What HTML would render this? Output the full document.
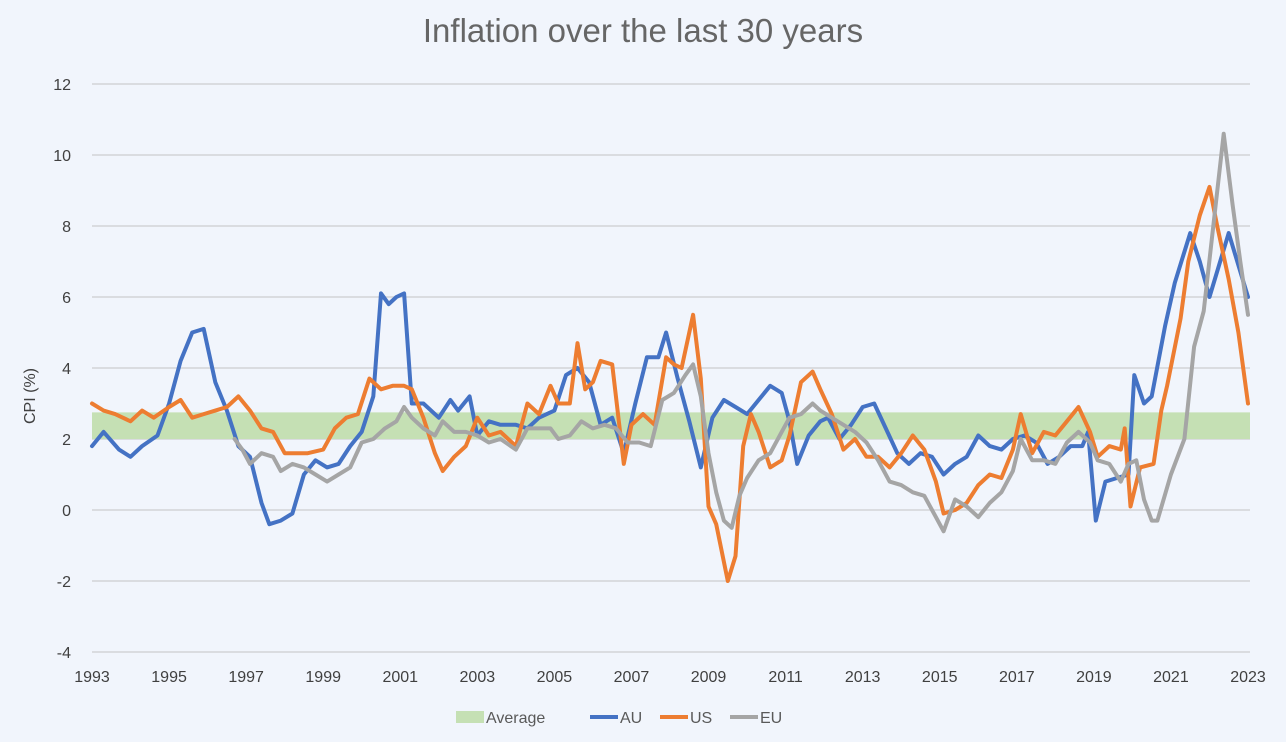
<!DOCTYPE html>
<html><head><meta charset="utf-8"><style>
html,body{margin:0;padding:0;background:#f1f5fc;}
svg{display:block;font-family:"Liberation Sans",sans-serif;}
</style></head><body>
<svg id="chart" width="1286" height="742" viewBox="0 0 1286 742" xmlns="http://www.w3.org/2000/svg">
<rect width="1286" height="742" fill="#f1f5fc"/>
<text x="643" y="42" text-anchor="middle" font-size="33" fill="#666666">Inflation over the last 30 years</text>
<text transform="translate(35,396) rotate(-90)" text-anchor="middle" font-size="16" fill="#404040">CPI (%)</text>
<g id="grid"></g><g id="band"></g><g id="lines"></g><g id="ticks"></g>
<g id="legend"></g>
</svg>
<script>
const yTicks=[-4,-2,0,2,4,6,8,10,12];
const xTicks=[1993,1995,1997,1999,2001,2003,2005,2007,2009,2011,2013,2015,2017,2019,2021,2023];
const avgLow=2.0, avgHigh=2.75;
const auYears=[1993,1993.3,1993.7,1994,1994.3,1994.7,1995,1995.3,1995.6,1995.9,1996.2,1996.5,1996.8,1997.1,1997.4,1997.6,1997.9,1998.2,1998.5,1998.8,1999.1,1999.4,1999.7,2000,2000.3,2000.5,2000.7,2000.9,2001.1,2001.3,2001.6,2002,2002.3,2002.5,2002.8,2003,2003.3,2003.6,2004,2004.3,2004.6,2005,2005.3,2005.6,2005.9,2006.2,2006.5,2006.8,2007.1,2007.4,2007.7,2007.9,2008.2,2008.5,2008.8,2009.1,2009.4,2009.7,2010,2010.3,2010.6,2010.9,2011.1,2011.3,2011.6,2011.9,2012.1,2012.4,2012.7,2013,2013.3,2013.6,2013.9,2014.2,2014.5,2014.8,2015.1,2015.4,2015.7,2016,2016.3,2016.6,2016.9,2017.2,2017.5,2017.8,2018.1,2018.4,2018.7,2018.85,2019.05,2019.3,2019.6,2019.9,2020.05,2020.3,2020.5,2020.85,2021.1,2021.5,2021.75,2022.0,2022.5,2023];
const auValues=[1.8,2.2,1.7,1.5,1.8,2.1,3.0,4.2,5.0,5.1,3.6,2.8,1.8,1.5,0.2,-0.4,-0.3,-0.1,1.0,1.4,1.2,1.3,1.8,2.2,3.2,6.1,5.8,6.0,6.1,3.0,3.0,2.6,3.1,2.8,3.2,2.1,2.5,2.4,2.4,2.3,2.6,2.8,3.8,4.0,3.6,2.4,2.6,1.6,3.0,4.3,4.3,5.0,3.7,2.5,1.2,2.6,3.1,2.9,2.7,3.1,3.5,3.3,2.5,1.3,2.1,2.5,2.6,2.0,2.4,2.9,3.0,2.3,1.6,1.3,1.6,1.5,1.0,1.3,1.5,2.1,1.8,1.7,2.0,2.1,1.9,1.3,1.5,1.8,1.8,2.2,-0.3,0.8,0.9,1.0,3.8,3.0,3.2,5.2,6.4,7.8,7.0,6.0,7.8,6.0];
const usYears=[1993,1993.3,1993.6,1994,1994.3,1994.6,1995,1995.3,1995.6,1995.9,1996.2,1996.5,1996.8,1997.1,1997.4,1997.7,1998,1998.3,1998.6,1999,1999.3,1999.6,1999.9,2000.2,2000.5,2000.8,2001.1,2001.3,2001.6,2001.9,2002.1,2002.4,2002.7,2003,2003.3,2003.6,2004,2004.3,2004.6,2004.9,2005.1,2005.4,2005.6,2005.8,2006,2006.2,2006.5,2006.8,2007,2007.3,2007.6,2007.9,2008.1,2008.3,2008.6,2008.8,2009,2009.2,2009.5,2009.7,2009.9,2010.1,2010.3,2010.6,2010.9,2011.1,2011.4,2011.7,2011.9,2012.2,2012.5,2012.8,2013.1,2013.4,2013.7,2014,2014.3,2014.6,2014.9,2015.1,2015.4,2015.7,2016,2016.3,2016.6,2016.9,2017.1,2017.4,2017.7,2018,2018.3,2018.6,2018.9,2019.1,2019.4,2019.7,2019.8,2019.95,2020.2,2020.55,2020.75,2020.9,2021.25,2021.45,2021.75,2022.0,2022.2,2022.5,2022.75,2023];
const usValues=[3.0,2.8,2.7,2.5,2.8,2.6,2.9,3.1,2.6,2.7,2.8,2.9,3.2,2.8,2.3,2.2,1.6,1.6,1.6,1.7,2.3,2.6,2.7,3.7,3.4,3.5,3.5,3.4,2.6,1.6,1.1,1.5,1.8,2.6,2.1,2.2,1.8,3.0,2.7,3.5,3.0,3.0,4.7,3.4,3.6,4.2,4.1,1.3,2.4,2.7,2.4,4.3,4.1,4.0,5.5,3.7,0.1,-0.4,-2.0,-1.3,1.8,2.7,2.2,1.2,1.4,2.1,3.6,3.9,3.4,2.7,1.7,2.0,1.5,1.5,1.2,1.6,2.1,1.7,0.8,-0.1,0.0,0.2,0.7,1.0,0.9,1.7,2.7,1.6,2.2,2.1,2.5,2.9,2.2,1.5,1.8,1.7,2.3,0.1,1.2,1.3,2.8,3.5,5.4,7.0,8.3,9.1,8.0,6.5,5.0,3.0];
const euYears=[1996.7,1996.9,1997.1,1997.4,1997.7,1997.9,1998.2,1998.5,1998.8,1999.1,1999.4,1999.7,2000,2000.3,2000.6,2000.9,2001.1,2001.3,2001.6,2001.9,2002.1,2002.4,2002.7,2003,2003.3,2003.6,2004,2004.3,2004.6,2004.9,2005.1,2005.4,2005.7,2006,2006.3,2006.6,2006.9,2007.2,2007.5,2007.8,2008.1,2008.4,2008.6,2008.8,2009,2009.2,2009.4,2009.6,2009.8,2010,2010.3,2010.6,2010.9,2011.1,2011.4,2011.7,2011.9,2012.2,2012.5,2012.8,2013.1,2013.4,2013.7,2014,2014.3,2014.6,2014.9,2015.1,2015.4,2015.7,2016,2016.3,2016.6,2016.9,2017.1,2017.4,2017.7,2018,2018.3,2018.6,2018.9,2019.1,2019.4,2019.7,2019.9,2020.1,2020.3,2020.5,2020.65,2021,2021.35,2021.6,2021.85,2022.1,2022.37,2022.6,2022.8,2023];
const euValues=[2.0,1.7,1.3,1.6,1.5,1.1,1.3,1.2,1.0,0.8,1.0,1.2,1.9,2.0,2.3,2.5,2.9,2.6,2.3,2.1,2.5,2.2,2.2,2.1,1.9,2.0,1.7,2.3,2.3,2.3,2.0,2.1,2.5,2.3,2.4,2.3,1.9,1.9,1.8,3.1,3.3,3.8,4.1,3.2,1.6,0.5,-0.3,-0.5,0.4,0.9,1.4,1.6,2.2,2.6,2.7,3.0,2.8,2.6,2.4,2.2,1.9,1.4,0.8,0.7,0.5,0.4,-0.2,-0.6,0.3,0.1,-0.2,0.2,0.5,1.1,2.0,1.4,1.4,1.3,1.9,2.2,1.9,1.4,1.3,0.8,1.3,1.4,0.3,-0.3,-0.3,1.0,2.0,4.6,5.6,8.0,10.6,8.6,7.0,5.5];

const X0=92,X1=1248,YT=84,YB=652;
const xS=v=>X0+(v-1993)/(2023-1993)*(X1-X0);
const yS=v=>YB-(v+4)/16*(YB-YT);
const NS="http://www.w3.org/2000/svg";
function mk(tag,parent,attrs){const e=document.createElementNS(NS,tag);for(const k in attrs)e.setAttribute(k,attrs[k]);parent.appendChild(e);return e;}
const grid=document.getElementById('grid'),ticks=document.getElementById('ticks');
yTicks.forEach(t=>{
  const l=mk('line',grid,{x1:X0,x2:1250,y1:yS(t),y2:yS(t),stroke:'#dadce0','stroke-width':2});
  
  
  const tx=mk('text',ticks,{x:71,y:yS(t)+6,'text-anchor':'end','font-size':16,fill:'#404040'});
  tx.textContent=t;
  
  
});
xTicks.forEach(t=>{
  const tx=mk('text',ticks,{x:xS(t),y:682,'text-anchor':'middle','font-size':16,fill:'#404040'});
  tx.textContent=t;
  
  
});
const band=mk('rect',document.getElementById('band'),{x:X0,width:1250-X0,y:yS(avgHigh),height:yS(avgLow)-yS(avgHigh),fill:'#c5e0b4'});


const lines=document.getElementById('lines');
function drawLine(xs,ys,color,name){
  const d=xs.map((x,i)=>(i?'L':'M')+xS(x).toFixed(1)+','+yS(ys[i]).toFixed(1)).join('');
  const p=mk('path',lines,{d:d,fill:'none',stroke:color,'stroke-width':4,'stroke-linejoin':'round','stroke-linecap':'round'});
  
  
}
drawLine(auYears,auValues,'#4472c4','au-line');
drawLine(usYears,usValues,'#ed7d31','us-line');
drawLine(euYears,euValues,'#a5a5a5','eu-line');
const lg=document.getElementById('legend');
const items=[['Average','#c5e0b4',true,456],['AU','#4472c4',false,590],['US','#ed7d31',false,660],['EU','#a5a5a5',false,730]];
items.forEach(it=>{
  const g=mk('g',lg,{});
  
  
  if(it[2]) mk('rect',g,{x:it[3],y:711,width:28,height:12,fill:it[1]});
  else mk('line',g,{x1:it[3],x2:it[3]+28,y1:717,y2:717,stroke:it[1],'stroke-width':4});
  const t=mk('text',g,{x:it[3]+30,y:723,'font-size':16,fill:'#595959'});
  t.textContent=it[0];
});
</script>
</body></html>
